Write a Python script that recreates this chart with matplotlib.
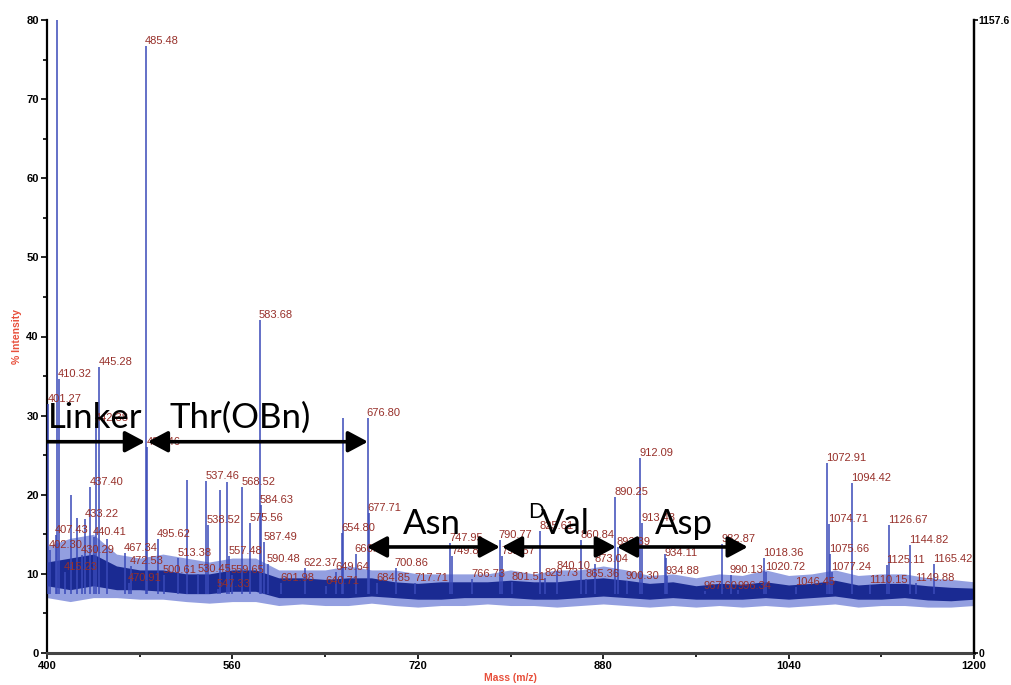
import matplotlib
matplotlib.use("Agg")
import matplotlib.pyplot as plt
from matplotlib.patches import FancyArrowPatch

# ---------------- data ----------------
peak_labels = ["401.27", "402.30", "407.43", "410.32", "415.23", "430.29", "433.22",
               "437.40", "440.41", "442.38", "445.28", "467.34", "470.91", "472.53",
               "485.48", "486.46", "495.62", "500.61", "513.38", "530.45", "537.46",
               "538.52", "547.33", "557.48", "559.65", "568.52", "575.56", "583.68",
               "584.63", "587.49", "590.48", "601.98", "622.37", "640.71", "649.64",
               "654.80", "666.46", "676.80", "677.71", "684.85", "700.86", "717.71",
               "747.95", "749.89", "766.73", "790.77", "792.57", "801.51", "825.61",
               "829.73", "840.10", "860.84", "865.36", "873.04", "890.25", "892.39",
               "900.30", "912.09", "913.43", "934.11", "934.88", "967.60", "982.87",
               "990.13", "996.34", "1018.36", "1020.72", "1046.45", "1072.91",
               "1074.71", "1075.66", "1077.24", "1094.42", "1110.15", "1125.11",
               "1126.67", "1144.82", "1149.88", "1165.42"]
peak_heights = [31.5, 13.0, 14.9, 34.6, 10.2, 12.4, 16.9,
                21.0, 14.7, 29.1, 36.1, 12.6, 8.8, 11.0,
                76.7, 26.0, 14.4, 9.9, 12.0, 10.0, 21.7,
                16.2, 8.1, 12.3, 9.9, 21.0, 16.4, 42.1,
                18.7, 14.0, 11.3, 8.8, 10.8, 8.5, 10.2,
                15.2, 12.5, 29.7, 17.7, 8.8, 10.8, 8.8,
                13.9, 12.3, 9.4, 14.3, 12.2, 9.0, 15.4,
                9.5, 10.4, 14.3, 9.4, 11.3, 19.7, 13.4,
                9.1, 24.7, 16.4, 12.0, 9.7, 7.8, 13.8,
                9.9, 7.9, 12.0, 10.2, 8.3, 24.0,
                16.3, 12.5, 10.2, 21.5, 8.6, 11.1,
                16.2, 13.7, 8.8, 11.2]

# unlabelled spikes
extra_mz = [408.6, 420.5, 426.0, 452.0, 521.0, 549.0, 555.5, 655.4, 933.0]
extra_heights = [100.0, 20.0, 17.0, 14.4, 21.9, 20.6, 21.6, 29.7, 12.5]

# noise envelope, every 20 m/z
noise_mz = list(range(400, 1201, 20))
outer_lo = [7.0, 6.5, 7.0, 7.0, 6.8, 6.8, 6.5, 6.3, 6.5, 6.5, 6.0, 6.2, 6.0, 6.0,
            6.3, 6.0, 5.8, 6.0, 6.0, 6.2, 6.0, 6.0, 5.8, 6.0, 6.2, 6.0, 5.8, 6.0,
            5.8, 6.0, 5.8, 6.0, 5.8, 6.0, 6.2, 5.8, 6.0, 6.0, 5.8, 5.8, 6.0]
outer_hi = [13.5, 14.5, 15.0, 12.5, 12.0, 12.5, 12.0, 11.5, 12.0, 12.0, 10.5, 10.5,
            10.5, 11.0, 10.5, 10.5, 10.0, 10.0, 10.0, 10.0, 10.5, 10.0, 10.5, 10.5,
            11.0, 10.5, 9.8, 10.0, 9.5, 10.0, 9.8, 10.5, 9.8, 10.0, 10.5, 9.8, 10.0,
            10.0, 9.5, 9.3, 9.0]
core_lo = [8.5, 8.0, 8.5, 8.0, 8.0, 7.8, 7.5, 7.5, 7.8, 7.8, 7.0, 7.0, 7.0, 7.0,
           7.2, 7.0, 6.8, 6.8, 7.0, 7.0, 7.0, 6.8, 6.8, 7.0, 7.2, 7.0, 6.8, 7.0,
           6.8, 6.8, 6.8, 7.0, 6.8, 7.0, 7.2, 6.8, 6.8, 7.0, 6.7, 6.6, 6.8]
core_hi = [11.5, 12.0, 12.5, 11.0, 10.5, 10.5, 10.0, 10.0, 10.5, 10.5, 9.5, 9.5,
           9.3, 9.5, 9.5, 9.0, 8.8, 9.0, 9.0, 9.0, 9.2, 9.0, 9.0, 9.3, 9.5, 9.2,
           8.8, 9.0, 8.5, 8.8, 8.7, 9.0, 8.6, 8.8, 9.2, 8.6, 8.8, 8.8, 8.5, 8.3, 8.2]

# residue annotations (arrows at y, from x0 to x1)
residues = ["Linker", "Thr(OBn)", "Asn", "Val", "Asp"]
arrow_y = [26.7, 26.7, 13.4, 13.4, 13.4]
arrow_x0 = [400.0, 487.0, 676.0, 792.6, 891.8]
arrow_x1 = [484.6, 677.0, 790.9, 891.0, 1004.8]
label_x = [401.0, 506.0, 707.0, 826.0, 924.6]
label_y = [28.4, 28.4, 15.0, 15.0, 15.0]

x_ticks = [400, 560, 720, 880, 1040, 1200]
x_minor = [480, 640, 800, 960, 1120]
y_ticks = [0, 10, 20, 30, 40, 50, 60, 70, 80]
right_max = 1157.6

# ---------------- figure ----------------
fig = plt.figure(figsize=(10.11, 6.85), dpi=100)
ax = fig.add_axes([47 / 1011, 1 - 653 / 685, (974 - 47) / 1011, (653 - 20) / 685])
ax.set_xlim(400, 1200)
ax.set_ylim(0, 80)

label_color = "#97302a"

# noise bands
ax.fill_between(noise_mz, outer_lo, outer_hi, color="#6f7fd6", alpha=0.75, lw=0, zorder=2)
ax.fill_between(noise_mz, core_lo, core_hi, color="#1a2a92", lw=0, zorder=3)

# peaks
peak_mz = [float(s) for s in peak_labels]
ax.vlines(peak_mz, 7.5, peak_heights, color="#3a4ab8", lw=1.3, alpha=0.85, zorder=4)
ax.vlines(extra_mz, 7.5, extra_heights, color="#3a4ab8", lw=1.3, alpha=0.85, zorder=4)

for s, m, h in zip(peak_labels, peak_mz, peak_heights):
    ax.text(m - 0.8, h + 0.25, s, ha="left", va="baseline", color=label_color,
            family="Liberation Sans", fontsize=8, zorder=6, clip_on=False)

# residue arrows and names
for i, name in enumerate(residues):
    style = "-|>" if i == 0 else "<|-|>"
    arr = FancyArrowPatch((arrow_x0[i], arrow_y[i]), (arrow_x1[i], arrow_y[i]),
                          arrowstyle=style + ",head_length=0.75,head_width=0.4",
                          mutation_scale=16, lw=2.6, color="black",
                          shrinkA=0, shrinkB=0, zorder=8)
    ax.add_patch(arr)
    ax.text(label_x[i], label_y[i], name, ha="left", va="baseline",
            family="Lato", fontsize=25, color="black", zorder=9)
# superscript D for DVal
ax.text(815.5, 17.0, "D", ha="left", va="baseline", family="Lato",
        fontsize=15, color="black", zorder=9)

# axes styling
ax.spines["top"].set_visible(False)
ax.spines["left"].set_linewidth(1.6)
ax.spines["bottom"].set_linewidth(2.2)
ax.spines["bottom"].set_color("#444444")
ax.spines["right"].set_linewidth(1.6)

ax.set_xticks(x_ticks)
ax.set_xticks(x_minor, minor=True)
ax.set_yticks(y_ticks)
ax.set_yticks([5, 15, 25, 35, 45, 55, 65, 75], minor=True)
ax.tick_params(axis="both", which="major", direction="out", length=4, width=1.2, pad=2)
ax.tick_params(axis="both", which="minor", direction="out", length=3, width=1.2)
ax.tick_params(axis="y", right=False)
for lab in ax.get_xticklabels() + ax.get_yticklabels():
    lab.set_family("Liberation Sans")
    lab.set_fontsize(8)
    lab.set_fontweight("bold")

ax.set_xlabel("Mass (m/z)", color="#e8503c", family="Liberation Sans",
              fontsize=7.5, fontweight="bold", labelpad=1.5)
ax.set_ylabel("% Intensity", color="#e8503c", family="Liberation Sans",
              fontsize=7.5, fontweight="bold", labelpad=3)

ax2 = ax.twinx()
ax2.set_ylim(0, right_max)
ax2.set_yticks([0, right_max])
ax2.set_yticklabels(["0", "1157.6"])
for sp in ["top", "left", "bottom"]:
    ax2.spines[sp].set_visible(False)
ax2.spines["right"].set_linewidth(1.6)
ax2.tick_params(axis="y", direction="out", length=3, width=1.2, pad=0.5)
for lab in ax2.get_yticklabels():
    lab.set_family("Liberation Sans")
    lab.set_fontsize(7.5)
    lab.set_fontweight("bold")

fig.savefig("out.png", dpi=100)
